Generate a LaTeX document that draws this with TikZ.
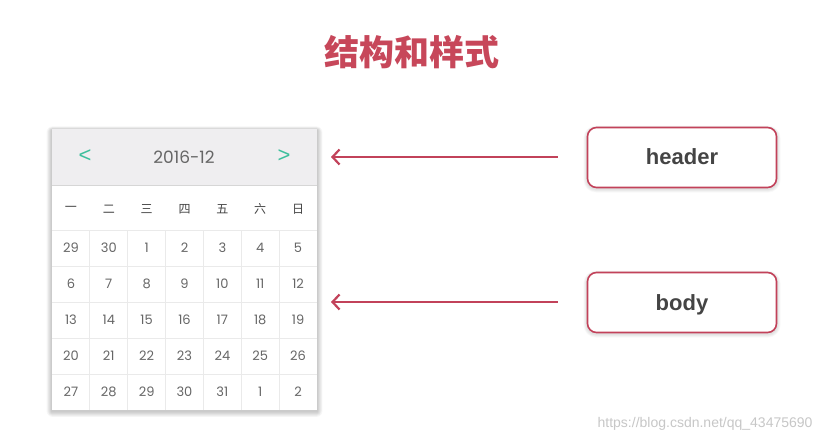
\documentclass[tikz,border=0pt]{standalone}
\usepackage{fontspec}
\setmainfont{Liberation Sans}
\newfontfamily\cjk{Noto Sans CJK SC}
\newfontfamily\digs{Poppins}
\usetikzlibrary{arrows.meta,calc}
\definecolor{accent}{HTML}{C2425A}
\definecolor{titlered}{HTML}{C7475A}
\definecolor{teal}{HTML}{3DBF9D}
\definecolor{numgray}{HTML}{666666}
\definecolor{gridgray}{HTML}{EAEAEA}
\definecolor{headbg}{HTML}{EFEEF0}
\definecolor{labelgray}{HTML}{444444}
\begin{document}
\begin{tikzpicture}[x=1pt,y=-1pt,
  daynum/.style={font=\digs\fontsize{13}{13}\selectfont, text=numgray, inner sep=0pt},
  wkday/.style={font=\cjk\fontsize{12}{12}\selectfont, text=labelgray, inner sep=0pt},
  labelbox/.style={draw=accent, line width=1.6pt, rounded corners=9pt, fill=white,
     minimum width=189pt, minimum height=60pt, font=\bfseries\fontsize{22}{22}\selectfont, text=labelgray},
  pointer/.style={draw=accent, line width=2.4pt, -{Straight Barb[length=7pt,width=15pt,line width=2.2pt]}},
  softshadow/.style={fill=black, opacity=0.035}
]
\useasboundingbox (0,0) rectangle (826,441);
\fill[white] (0,0) rectangle (826,441);

% title
\node[font=\cjk\bfseries\fontsize{35}{35}\selectfont, text=titlered] (title) at (412,52) {结构和样式};

% soft shadows
\foreach \s in {1,...,6} {
  \fill[softshadow, rounded corners={\s pt}] ({52-\s*0.9},{129-\s*0.6+1}) rectangle ({317+\s*0.9},{410+\s*0.9+1.5});
  \fill[softshadow, opacity=0.02, rounded corners={(9+\s*0.6)*1pt}] ({587-\s*0.6},{127-\s*0.4+1}) rectangle ({777+\s*0.6},{188+\s*0.6+1});
  \fill[softshadow, opacity=0.02, rounded corners={(9+\s*0.6)*1pt}] ({587-\s*0.6},{272-\s*0.4+1}) rectangle ({777+\s*0.6},{333+\s*0.6+1});
}

% calendar frame
\node[fill=white, minimum width=265pt, minimum height=281pt, inner sep=0pt] (cal) at (184.5,269.5) {};
\fill[headbg] (52,129) rectangle (317,185);
\draw[color=black!16, line width=1pt] (52,185) -- (317,185);
\node[font=\fontsize{22}{22}\selectfont, text=teal] (prev) at (85,156) {<};
\node[font=\fontsize{22}{22}\selectfont, text=teal] (next) at (284,156) {>};
\node[font=\digs\fontsize{17}{17}\selectfont, text=numgray] (month) at (184,157) {2016-12};

% weekday row
\foreach \w [count=\i] in {一,二,三,四,五,六,日} {
  \node[wkday] (wd\i) at ({52+265/7*(\i-0.5)},209) {\w};
}

% grid lines
\foreach \r in {0,...,4} {
  \draw[gridgray, line width=0.8pt] (52,{230+36*\r}) -- (317,{230+36*\r});
}
\foreach \c in {1,...,6} {
  \draw[gridgray, line width=0.8pt] ({52+265/7*\c},230) -- ({52+265/7*\c},410);
}

% day numbers
\foreach \row [count=\r] in {
  {29,30,1,2,3,4,5},
  {6,7,8,9,10,11,12},
  {13,14,15,16,17,18,19},
  {20,21,22,23,24,25,26},
  {27,28,29,30,31,1,2}} {
  \foreach \d [count=\c] in \row {
    \node[daynum] (d\r-\c) at ({52+265/7*(\c-0.5)},{248+36*(\r-1)}) {\d};
  }
}

% label boxes
\node[labelbox, text depth=1pt] (hbox) at (682,157.5) {header};
\node[labelbox, text height=16pt, text depth=0pt] (bbox) at (682,302.5) {body};

% arrows
\coordinate (hend) at (331,157);
\coordinate (bend) at (331,302);
\draw[pointer] ([xshift=-29pt]hbox.west |- hend) -- (hend);
\draw[pointer] ([xshift=-29pt]bbox.west |- bend) -- (bend);

% watermark
\node[font=\fontsize{14}{14}\selectfont, text=black!22, anchor=east] (wm) at (816,424) {https://blog.csdn.net/qq\_43475690};
\end{tikzpicture}
\end{document}
